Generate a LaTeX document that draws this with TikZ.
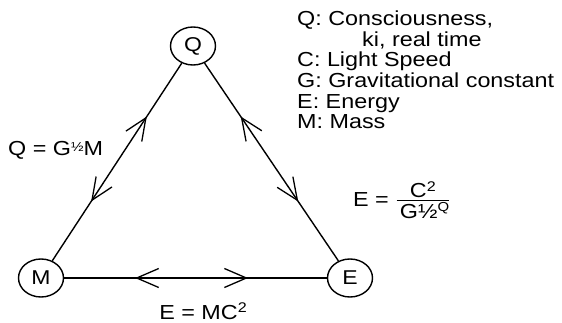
\documentclass[tikz,border=0pt]{standalone}
\usepackage{fontspec}
\setmainfont{Liberation Sans}[FakeStretch=1.15]
\usetikzlibrary{shapes.geometric,arrows.meta,decorations.markings}
\tikzset{
  state/.style={ellipse,draw,line width=1.4pt,minimum width=45pt,minimum height=38pt,inner sep=0pt,font=\fontsize{20}{21}\selectfont},
  lbl/.style={font=\fontsize{20.3}{21}\selectfont,inner sep=0pt},
  barb/.tip={Straight Barb[length=22pt,width=19pt,line width=1.3pt]},
  conn/.style={line width=1.4pt,postaction={decorate},decoration={markings,
    mark=at position 0.27 with {\arrowreversed{barb}},
    mark=at position 0.70 with {\arrow{barb}}}}
}
\begin{document}
\begin{tikzpicture}[x=1pt,y=1pt]
\useasboundingbox (0,0) rectangle (562,322);
\node[state] (Q) at (193,276) {Q};
\node[state] (M) at (41,44) {M};
\node[state] (E) at (350,44) {E};
\draw[conn] (Q) -- (M);
\draw[conn] (Q) -- (E);
\draw[conn] (M) -- (E);
\node[lbl,anchor=base west] (qeq) at (8,167) {Q = G\raisebox{4pt}{\fontsize{13}{13}\selectfont ½}M};
\node[lbl,anchor=base] (emc) at (203,3) {E = MC\raisebox{6.5pt}{\fontsize{14}{14}\selectfont 2}};
\node[lbl,anchor=base west] (leg1) at (297,296) {Q: Consciousness,};
\node[lbl,anchor=base west] (leg2) at (362,275.5) {ki, real time};
\node[lbl,anchor=base west] (leg3) at (297,255) {C: Light Speed};
\node[lbl,anchor=base west] (leg4) at (297,234.5) {G: Gravitational constant};
\node[lbl,anchor=base west] (leg5) at (297,214) {E: Energy};
\node[lbl,anchor=base west] (leg6) at (297,193.5) {M: Mass};
\node[lbl,anchor=base west] (frac) at (353,116) {E = $\textstyle{\mbox{\,C\raisebox{6.5pt}{\fontsize{14}{14}\selectfont 2}\,} \above 1.2pt \mbox{\,G½\raisebox{7pt}{\fontsize{13}{13}\selectfont Q}}}$};
\end{tikzpicture}
\end{document}
